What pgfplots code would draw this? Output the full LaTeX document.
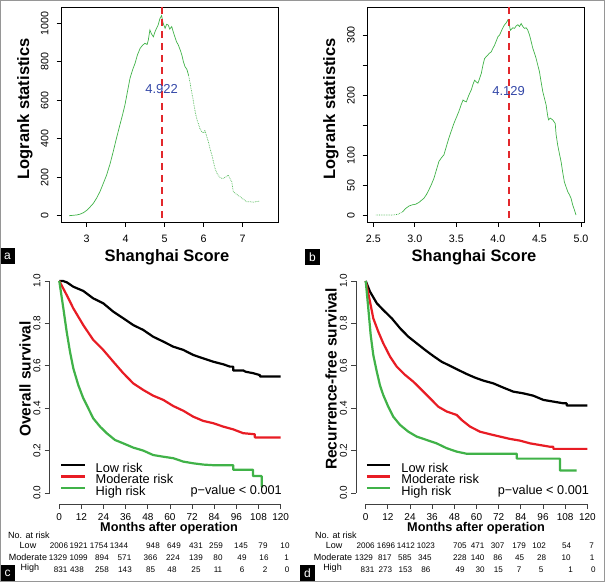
\documentclass[border=0pt]{standalone}
\usepackage{fontspec}
\setmainfont{Liberation Sans}
\usepackage{pgfplots}
\pgfplotsset{compat=1.18}

\definecolor{kmgreen}{RGB}{64,178,72}
\definecolor{kmred}{RGB}{232,28,36}
\definecolor{dashred}{RGB}{226,40,44}
\definecolor{cutblue}{RGB}{52,72,168}
\definecolor{framegray}{RGB}{150,150,150}

\pgfplotsset{
  rbox/.style={scale only axis, anchor=south west,
    axis line style={line width=0.8bp}, tick style={line width=0.8bp, black},
    tick align=outside, major tick length=5bp, tick pos=left,
    ticklabel style={font=\fontsize{10.7bp}{12bp}\selectfont, inner sep=0pt},
    yticklabel style={rotate=90, anchor=south}, xticklabel style={anchor=north},
    xticklabel shift=7.5bp, yticklabel shift=7.9bp,
    label style={font=\bfseries\fontsize{16.5bp}{18bp}\selectfont, anchor=center, inner sep=0pt}},
  kmaxis/.style={scale only axis, anchor=south west, clip=false,
    axis x line=bottom, axis y line=left, axis line style={draw=none},
    tick style={line width=0.8bp, black!75}, tick align=outside, major tick length=5bp,
    ymin=-0.052, ymax=1.04, xmin=-5.3, xmax=124.8,
    xtick={0,12,24,36,48,60,72,84,96,108,120},
    xticklabels={0,12,24,36,48,60,72,84,96,108,120},
    ytick={0,0.2,0.4,0.6,0.8,1}, yticklabels={0.0,0.2,0.4,0.6,0.8,1.0},
    ticklabel style={font=\fontsize{10bp}{12bp}\selectfont, inner sep=0pt},
    yticklabel style={rotate=90, anchor=south}, xticklabel style={anchor=north},
    xticklabel shift=4bp, yticklabel shift=3.9bp,
    xlabel style={font=\bfseries\fontsize{12.7bp}{14bp}\selectfont, anchor=center, inner sep=0pt},
    ylabel style={font=\bfseries\fontsize{15.5bp}{17bp}\selectfont, anchor=center, inner sep=0pt},
    legend style={anchor=north west, draw=none, fill=none, inner sep=0pt, outer sep=0pt,
      font=\fontsize{12.8bp}{14bp}\selectfont,
      nodes={inner sep=0pt, text height=9bp, text depth=2.7bp},
      /tikz/every odd column/.append style={column sep=10bp}},
    legend cell align=left,
    legend image code/.code={\draw[##1] (0bp,4bp) -- (23.5bp,4bp);}},
  kmline/.style={line width=2.2bp, line join=round},
}

\begin{document}
\begin{tikzpicture}[x=1bp,y=1bp]
\useasboundingbox (0,0) rectangle (605,582);

% ---------------- panel a ----------------
\begin{axis}[rbox, at={(61.7bp,360bp)}, width=216.6bp, height=215bp,
  xmin=2.359, xmax=7.913, ymin=-32.7, ymax=1084.7,
  xtick={3,4,5,6,7}, xticklabels={3,4,5,6,7},
  ytick={0,200,400,600,800,1000}, yticklabels={0,200,400,600,800,1000},
  xlabel={Shanghai Score}, ylabel={Logrank statistics},
  xlabel style={at={(axis description cs:0.486,-0.1628)}},
  ylabel style={at={(axis description cs:-0.1694,0.5256)}}]
\addplot[kmgreen, line width=0.7bp] coordinates {
(2.55,0) (2.65,2) (2.75,4) (2.83,8) (2.92,16) (3.00,28) (3.08,44) (3.17,64)
(3.25,90) (3.34,125) (3.42,165) (3.51,211) (3.60,270) (3.68,333) (3.76,400)
(3.85,471) (3.92,525) (3.98,575) (4.05,650) (4.11,714) (4.18,760) (4.24,792)
(4.30,835) (4.37,870) (4.43,885) (4.49,896) (4.55,890) (4.58,913) (4.62,965)
(4.66,945) (4.71,930) (4.75,955) (4.79,974) (4.83,990) (4.88,1026) (4.92,1040)
(4.96,1000) (5.01,974) (5.05,995) (5.09,991) (5.13,970) (5.18,983) (5.22,955)
(5.26,930) (5.30,905) (5.35,887) (5.40,860) (5.44,835) (5.48,800) (5.52,775)
(5.57,760) (5.61,731)};
\addplot[kmgreen, line width=0.7bp, densely dotted] coordinates {
(5.61,731) (5.65,690) (5.69,645) (5.74,590) (5.78,541) (5.82,505) (5.86,480)
(5.90,455) (5.95,437) (6.00,430) (6.03,445) (6.08,410) (6.12,385) (6.16,350)
(6.21,316) (6.25,280) (6.29,246) (6.33,225) (6.37,211) (6.43,195) (6.50,194)
(6.56,200) (6.63,211) (6.68,190) (6.72,177) (6.76,125) (6.85,110) (6.93,99)
(7.02,85) (7.10,73) (7.20,72) (7.27,70) (7.43,76)};
\addplot[dashred, line width=1.8bp, dash pattern=on 7bp off 5bp] coordinates {(4.922,1084.7) (4.922,-32.7)};
\node[text=cutblue, font=\fontsize{13bp}{13bp}\selectfont] at (axis cs:4.922,658) {4.922};
\end{axis}

% ---------------- panel b ----------------
\begin{axis}[rbox, at={(367.7bp,360bp)}, width=216.6bp, height=215bp,
  xmin=2.433, xmax=5.04, ymin=-10.5, ymax=346.5,
  xtick={2.5,3,3.5,4,4.5,5}, xticklabels={2.5,3.0,3.5,4.0,4.5,5.0},
  ytick={0,50,100,150,200,250,300}, yticklabels={0,50,100,,200,,300},
  xlabel={Shanghai Score}, ylabel={Logrank statistics},
  xlabel style={at={(axis description cs:0.491,-0.1628)}},
  ylabel style={at={(axis description cs:-0.1694,0.5256)}}]
\addplot[kmgreen, line width=0.7bp, densely dotted] coordinates {
(2.53,1) (2.60,1) (2.65,1) (2.72,1) (2.79,2) (2.85,6)};
\addplot[kmgreen, line width=0.7bp] coordinates {
(2.85,6) (2.89,12) (2.93,16) (2.97,18) (3.01,19) (3.05,22) (3.11,29) (3.14,35)
(3.17,43) (3.20,52) (3.23,62) (3.26,76) (3.29,90) (3.32,96) (3.35,101) (3.38,115)
(3.41,129) (3.44,141) (3.47,153) (3.50,163) (3.53,173) (3.56,185) (3.58,192)
(3.60,190) (3.62,189) (3.65,200) (3.68,209) (3.70,218) (3.72,225) (3.74,222)
(3.76,220) (3.78,228) (3.80,236) (3.82,250) (3.84,261) (3.86,264) (3.88,267)
(3.90,270) (3.92,272) (3.94,278) (3.96,283) (3.98,290) (4.00,297) (4.02,300)
(4.04,306) (4.06,312) (4.08,317) (4.10,320) (4.12,325) (4.13,322) (4.15,308)
(4.18,312) (4.20,311) (4.22,315) (4.24,317) (4.26,314) (4.28,319) (4.30,314)
(4.32,311) (4.34,312) (4.36,308) (4.38,300) (4.39,295) (4.42,278) (4.44,270)
(4.46,261) (4.48,250) (4.50,239) (4.52,222) (4.54,206) (4.56,195) (4.58,184)
(4.60,165) (4.61,159) (4.63,162) (4.66,159) (4.69,153) (4.70,135) (4.72,117)
(4.74,103) (4.76,90) (4.78,72) (4.80,56) (4.82,48) (4.84,40) (4.86,35)
(4.88,29) (4.90,18) (4.92,10) (4.94,1)};
\addplot[dashred, line width=1.8bp, dash pattern=on 7bp off 5bp] coordinates {(4.129,346.5) (4.129,-10.5)};
\node[text=cutblue, font=\fontsize{13bp}{13bp}\selectfont] at (axis cs:4.129,207) {4.129};
\end{axis}

% ---------------- panel c ----------------
\begin{axis}[kmaxis, at={(49.5bp,78bp)}, width=240bp, height=231.5bp,
  xlabel={Months after operation}, ylabel={Overall survival},
  xlabel style={at={(axis description cs:0.498,-0.1037)}},
  ylabel style={at={(axis description cs:-0.102,0.54)}},
  legend style={at={(axis description cs:0.04375,0.177)}}]
\draw[black!75, line width=0.8bp] (axis cs:0,-0.052) -- (axis cs:120,-0.052);
\draw[black!75, line width=0.8bp] (axis cs:-5.3,0) -- (axis cs:-5.3,1);
\addplot[kmline, black] coordinates {
(0,1) (2,1) (4,0.994) (7.6,0.973) (13,0.953) (18.4,0.918) (23.8,0.895) (29.3,0.855)
(34.7,0.824) (40.1,0.792) (45.5,0.769) (50.9,0.737) (56.4,0.714) (61.8,0.690)
(67.2,0.675) (72.6,0.651) (78,0.635) (83.5,0.619) (88.9,0.607) (92.5,0.596)
(94.3,0.596) (94.3,0.578) (99.7,0.578) (101,0.572) (105.1,0.565) (108.8,0.556)
(108.8,0.549) (120,0.549)};
\addlegendentry{Low risk}
\addplot[kmline, kmred] coordinates {
(0,1) (4,0.934) (7.6,0.871) (13,0.792) (18.4,0.722) (23.8,0.675) (29.3,0.619)
(34.7,0.565) (40.1,0.517) (45.5,0.486) (50.9,0.459) (56.4,0.439) (61.8,0.410)
(67.2,0.388) (72.6,0.360) (78,0.340) (83.5,0.329) (88.9,0.313) (94.3,0.300)
(99.7,0.282) (106,0.277) (106,0.262) (120,0.262)};
\addlegendentry{Moderate risk}
\addplot[kmline, kmgreen] coordinates {
(0,1) (2.2,0.871) (4,0.761) (5.8,0.667) (7.6,0.588) (10.3,0.509) (13,0.447)
(15.7,0.400) (18.4,0.352) (22.1,0.313) (25.7,0.282) (30.2,0.250) (34.7,0.234)
(40.1,0.214) (45.5,0.200) (50.9,0.179) (56.4,0.171) (61.8,0.164) (67.2,0.148)
(72.6,0.140) (78,0.134) (83.5,0.131) (94.3,0.131) (94.3,0.110) (105,0.110)
(105,0.080) (109.7,0.080) (109.7,0.031) (110.5,0.031)};
\addlegendentry{High risk}
\node[anchor=base east, inner sep=0pt, font=\fontsize{12.7bp}{14bp}\selectfont] at (axis cs:120.7,-0.005) {p−value < 0.001};
\end{axis}

% ---------------- panel d ----------------
\begin{axis}[kmaxis, at={(356bp,78bp)}, width=240.2bp, height=231.5bp, xmin=-5.25,
  xlabel={Months after operation}, ylabel={Recurrence-free survival},
  xlabel style={at={(axis description cs:0.4996,-0.1037)}},
  ylabel style={at={(axis description cs:-0.104,0.54)}},
  legend style={at={(axis description cs:0.0404,0.177)}}]
\draw[black!75, line width=0.8bp] (axis cs:0,-0.052) -- (axis cs:120,-0.052);
\draw[black!75, line width=0.8bp] (axis cs:-5.25,0) -- (axis cs:-5.25,1);
\addplot[kmline, black] coordinates {
(0,1) (2.3,0.950) (6,0.895) (9.5,0.863) (14.1,0.824) (18.6,0.777) (23.1,0.737)
(27.6,0.706) (32.1,0.675) (36.6,0.646) (41.1,0.619) (45.6,0.600) (50.2,0.580)
(54.7,0.561) (59.2,0.544) (63.7,0.530) (69.1,0.517) (74.5,0.497) (79.9,0.478)
(85.3,0.470) (90.7,0.459) (96.2,0.439) (101.6,0.431) (107,0.423) (108.8,0.423)
(108.8,0.413) (120,0.413)};
\addlegendentry{Low risk}
\addplot[kmline, kmred] coordinates {
(0,1) (2.3,0.903) (4.1,0.824) (6.8,0.761) (9.5,0.706) (13.2,0.643) (16.8,0.596)
(21.3,0.557) (25.8,0.525) (30.3,0.486) (34.8,0.447) (39.3,0.407) (43.9,0.384)
(49.3,0.368) (52,0.344) (56.5,0.313) (61.9,0.289) (67.3,0.277) (72.7,0.266)
(78.1,0.255) (83.5,0.247) (89,0.234) (94.4,0.226) (99.8,0.218) (101.6,0.218)
(101.6,0.208) (120,0.208)};
\addlegendentry{Moderate risk}
\addplot[kmline, kmgreen] coordinates {
(0,1) (1.4,0.871) (2.7,0.745) (4.1,0.651) (6,0.572) (7.7,0.509) (9.5,0.462)
(12.2,0.407) (14.9,0.360) (18.6,0.321) (23.1,0.289) (27.6,0.266) (33,0.250)
(38.4,0.234) (43.9,0.211) (49.3,0.195) (54.7,0.185) (81.8,0.185) (81.8,0.162)
(105.2,0.162) (105.2,0.106) (114.2,0.106)};
\addlegendentry{High risk}
\node[anchor=base east, inner sep=0pt, font=\fontsize{12.7bp}{14bp}\selectfont] at (axis cs:121,-0.005) {p−value < 0.001};
\end{axis}

% ---------------- numbers at risk ----------------
\tikzset{risk/.style={inner sep=0pt, anchor=center, font=\fontsize{8.1bp}{10bp}\selectfont},
         rlab/.style={inner sep=0pt, anchor=center, font=\fontsize{9bp}{10bp}\selectfont}}
% panel c
\node[rlab, anchor=west] at (8,47) {No. at risk};
\node[rlab] at (28,37) {Low};
\node[rlab] at (28,24.5) {Moderate};
\node[rlab] at (30,14) {High};
\foreach \x/\n in {59/2006,78.7/1921,99/1754,119/1344,153/948,174/649,196/431,216/259,241/145,263/79,285/10}
  \node[risk] at (\x,36) {\n};
\foreach \x/\n in {58/1329,78.7/1099,102/894,124.5/571,150.5/366,173/224,196/139,218/80,242/49,264/16,286.7/1}
  \node[risk] at (\x,24) {\n};
\foreach \x/\n in {60.7/831,77/438,102/258,125/143,150.7/85,172/48,196/25,218/11,242/6,265/2,287/0}
  \node[risk] at (\x,12) {\n};
% panel d
\node[rlab, anchor=west] at (315,47) {No. at risk};
\node[rlab] at (334,37) {Low};
\node[rlab] at (333,24.5) {Moderate};
\node[rlab] at (332.5,14) {High};
\foreach \x/\n in {365.7/2006,386/1696,405.8/1412,425.8/1023,459.8/705,477.5/471,497.5/307,519/179,539/102,566.7/54,591.7/7}
  \node[risk] at (\x,36) {\n};
\foreach \x/\n in {363.8/1329,384.8/817,404.8/585,424.8/345,459.8/228,477.5/140,497.8/86,519.7/45,541.7/28,566/10,592/1}
  \node[risk] at (\x,24) {\n};
\foreach \x/\n in {367.5/831,385.3/273,405.3/153,425.8/86,460/49,480/30,498.3/15,519/7,541/5,570.5/1,593.3/0}
  \node[risk] at (\x,12) {\n};

% ---------------- panel letters ----------------
\foreach \x/\y/\l in {0/318/a,305/317/b,0/1/c,300/1/d} {
  \fill[black] (\x,\y) rectangle ++(15,16);
  \node[text=white, inner sep=0pt, font=\fontsize{12bp}{12bp}\selectfont] at (\x+7.5,\y+8) {\l};
}
\draw[framegray, line width=1bp] (0.5,0.5) rectangle (604.5,581.5);
\end{tikzpicture}
\end{document}
